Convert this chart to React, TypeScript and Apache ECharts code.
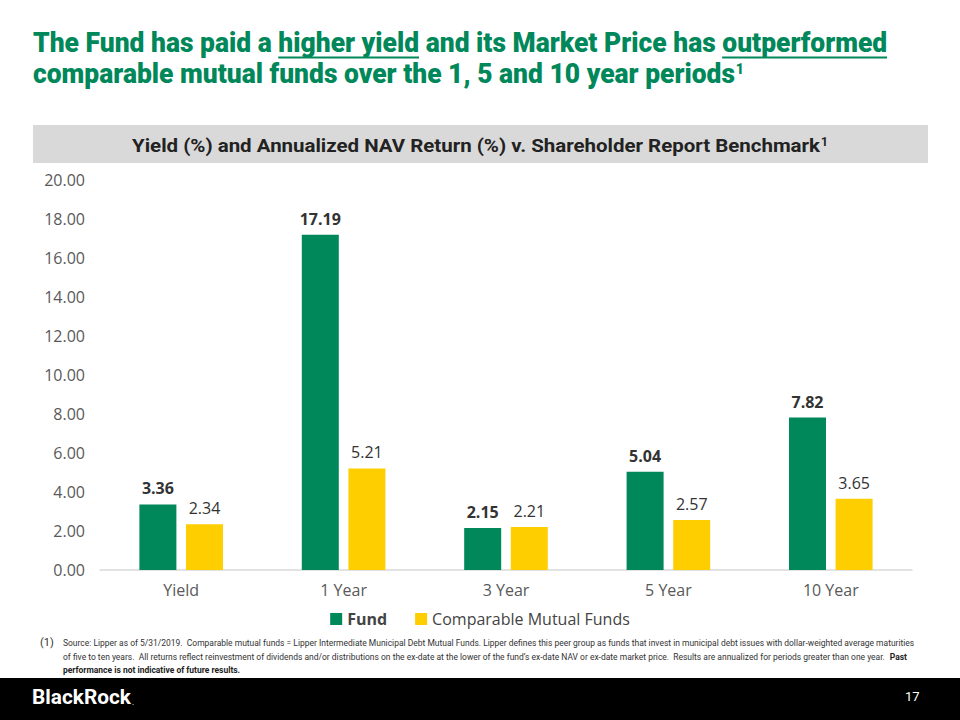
import React, { useEffect, useRef } from "react";
import * as echarts from "echarts";

const categories = ["Yield", "1 Year", "3 Year", "5 Year", "10 Year"];
const fundValues = [3.36, 17.19, 2.15, 5.04, 7.82];
const comparableValues = [2.34, 5.21, 2.21, 2.57, 3.65];
const seriesNames = ["Fund", "Comparable Mutual Funds"];
const yTicks = { min: 0, max: 20, interval: 2 };

const GREEN = "#00875A";
const YELLOW = "#FFCE00";
const TITLE_FONT = "Roboto, 'Liberation Sans', sans-serif";
const BODY_FONT = "'Open Sans', 'Noto Sans', sans-serif";

const titleLine1Parts = ["The Fund has paid a ", "higher yield", " and its Market Price has ", "outperformed"];
const titleLine2 = "comparable mutual funds over the 1, 5 and 10 year periods";
const bandTitle = "Yield (%) and Annualized NAV Return (%) v. Shareholder Report Benchmark";
const footLine1 =
  "Source: Lipper as of 5/31/2019.  Comparable mutual funds = Lipper Intermediate Municipal Debt Mutual Funds. Lipper defines this peer group as funds that invest in municipal debt issues with dollar-weighted average maturities";
const footLine2 =
  "of five to ten years.  All returns reflect reinvestment of dividends and/or distributions on the ex-date at the lower of the fund\u2019s ex-date NAV or ex-date market price.  Results are annualized for periods greater than one year.  ";
const footLine2Bold = "Past";
const footLine3 = "performance is not indicative of future results.";

function measure(text: string, font: string): number {
  const c = document.createElement("canvas").getContext("2d");
  if (!c) return text.length * 10;
  c.font = font;
  return c.measureText(text).width;
}

export default function App() {
  const ref = useRef<HTMLDivElement>(null);
  useEffect(() => {
    if (!ref.current) return;
    const chart = echarts.init(ref.current, null, { renderer: "svg" });
    const tf = `900 28px ${TITLE_FONT}`;
    const x0 = 33;
    const w0 = measure(titleLine1Parts[0], tf);
    const w1 = measure(titleLine1Parts[1], tf);
    const w2 = measure(titleLine1Parts[2], tf);
    const w3 = measure(titleLine1Parts[3], tf);
    const tScale = 854 / (w0 + w1 + w2 + w3);
    const line2W = measure(titleLine2, tf) * tScale;
    const ulY = 57.5;

    const bf = `bold 19px ${TITLE_FONT}`;
    const bScale = 688 / measure(bandTitle, bf);

    const ff = `9.5px ${TITLE_FONT}`;
    const ffb = `bold 9.5px ${TITLE_FONT}`;
    const fScale = 852 / measure(footLine1, ff);
    const f2W = measure(footLine2, ff) * fScale;

    const lf = `bold 20px ${TITLE_FONT}`;
    const lScale = 99 / measure("BlackRock", lf);

    chart.setOption({
      animation: false,
      backgroundColor: "#ffffff",
      grid: { left: 100, width: 812, top: 180, height: 390 },
      legend: {
        data: seriesNames,
        bottom: 88,
        left: "center",
        itemWidth: 12,
        itemHeight: 12,
        itemGap: 28,
        icon: "rect",
        textStyle: {
          fontFamily: BODY_FONT,
          fontSize: 16,
          color: "#444",
          rich: { b: { fontWeight: "bold", fontFamily: BODY_FONT, fontSize: 16, color: "#444" } },
        },
        formatter: (n: string) => (n === "Fund" ? "{b|Fund}" : n),
        selectedMode: false,
      },
      xAxis: {
        type: "category",
        data: categories,
        axisLine: { lineStyle: { color: "#D9D9D9", width: 1.5 } },
        axisTick: { show: false },
        axisLabel: { fontFamily: BODY_FONT, fontSize: 16, color: "#595959", margin: 12 },
      },
      yAxis: {
        type: "value",
        min: yTicks.min,
        max: yTicks.max,
        interval: yTicks.interval,
        splitLine: { show: false },
        axisLine: { show: false },
        axisLabel: {
          fontFamily: BODY_FONT,
          fontSize: 16,
          color: "#595959",
          margin: 15,
          formatter: (v: number) => v.toFixed(2),
        },
      },
      series: [
        {
          name: seriesNames[0],
          type: "bar",
          data: fundValues,
          barWidth: 37,
          barGap: "26%",
          itemStyle: { color: GREEN },
          label: {
            show: true,
            position: "top",
            distance: 8,
            fontFamily: BODY_FONT,
            fontSize: 16,
            fontWeight: "bold",
            color: "#333",
            formatter: (p: any) => p.value.toFixed(2),
          },
        },
        {
          name: seriesNames[1],
          type: "bar",
          data: comparableValues,
          barWidth: 37,
          itemStyle: { color: YELLOW },
          label: {
            show: true,
            position: "top",
            distance: 8,
            fontFamily: BODY_FONT,
            fontSize: 16,
            color: "#333",
            formatter: (p: any) => p.value.toFixed(2),
          },
        },
      ],
      graphic: [
        {
          type: "text",
          x: x0,
          y: 29,
          scaleX: tScale,
          style: { text: titleLine1Parts.join(""), font: tf, fill: GREEN, x: 0, y: 0, verticalAlign: "top" },
        },
        {
          type: "line",
          shape: { x1: x0 + w0 * tScale, y1: ulY, x2: x0 + (w0 + w1) * tScale, y2: ulY },
          style: { stroke: GREEN, lineWidth: 2 },
        },
        {
          type: "line",
          shape: { x1: x0 + (w0 + w1 + w2) * tScale, y1: ulY, x2: x0 + (w0 + w1 + w2 + w3) * tScale, y2: ulY },
          style: { stroke: GREEN, lineWidth: 2 },
        },
        {
          type: "text",
          x: x0,
          y: 59.5,
          scaleX: tScale,
          style: { text: titleLine2, font: tf, fill: GREEN, x: 0, y: 0, verticalAlign: "top" },
        },
        {
          type: "text",
          x: x0 + line2W + 1,
          y: 62,
          style: { text: "1", font: `900 14px ${TITLE_FONT}`, fill: GREEN, x: 0, y: 0, verticalAlign: "top" },
        },
        {
          type: "rect",
          shape: { x: 33, y: 125, width: 895, height: 38 },
          style: { fill: "#D9D9D9" },
        },
        {
          type: "text",
          x: 476,
          y: 146,
          scaleX: bScale,
          style: {
            text: bandTitle,
            font: bf,
            fill: "#222",
            x: 0,
            y: 0,
            align: "center",
            verticalAlign: "middle",
          },
        },
        {
          type: "text",
          x: 476 + 344 + 1,
          y: 136,
          style: { text: "1", font: `bold 12px ${TITLE_FONT}`, fill: "#222", x: 0, y: 0, verticalAlign: "top" },
        },
        {
          type: "text",
          x: 40,
          y: 637,
          style: { text: "(1)", font: `11px ${TITLE_FONT}`, fill: "#333", x: 0, y: 0, verticalAlign: "top" },
        },
        {
          type: "text",
          x: 63,
          y: 638,
          scaleX: fScale,
          style: { text: footLine1, font: ff, fill: "#333", x: 0, y: 0, verticalAlign: "top" },
        },
        {
          type: "text",
          x: 63,
          y: 651.5,
          scaleX: fScale,
          style: { text: footLine2, font: ff, fill: "#333", x: 0, y: 0, verticalAlign: "top" },
        },
        {
          type: "text",
          x: 63 + f2W,
          y: 651.5,
          scaleX: fScale,
          style: { text: footLine2Bold, font: ffb, fill: "#222", x: 0, y: 0, verticalAlign: "top" },
        },
        {
          type: "text",
          x: 63,
          y: 665,
          scaleX: fScale,
          style: { text: footLine3, font: ffb, fill: "#222", x: 0, y: 0, verticalAlign: "top" },
        },
        {
          type: "rect",
          shape: { x: 0, y: 678, width: 960, height: 42 },
          style: { fill: "#000" },
        },
        {
          type: "text",
          x: 32,
          y: 687.5,
          scaleX: lScale,
          style: {
            text: "BlackRock{d|.}",
            font: lf,
            fill: "#fff",
            x: 0,
            y: 0,
            verticalAlign: "top",
            rich: { d: { font: `8px ${TITLE_FONT}`, fill: "#fff", padding: [9, 0, 0, 1] } },
          },
        },
        {
          type: "text",
          x: 905,
          y: 690,
          style: { text: "17", font: `13px ${TITLE_FONT}`, fill: "#fff", x: 0, y: 0, verticalAlign: "top" },
        },
      ],
    });
    return () => chart.dispose();
  }, []);
  return <div ref={ref} style={{ position: "fixed", left: 0, top: 0, width: 960, height: 720 }} />;
}
